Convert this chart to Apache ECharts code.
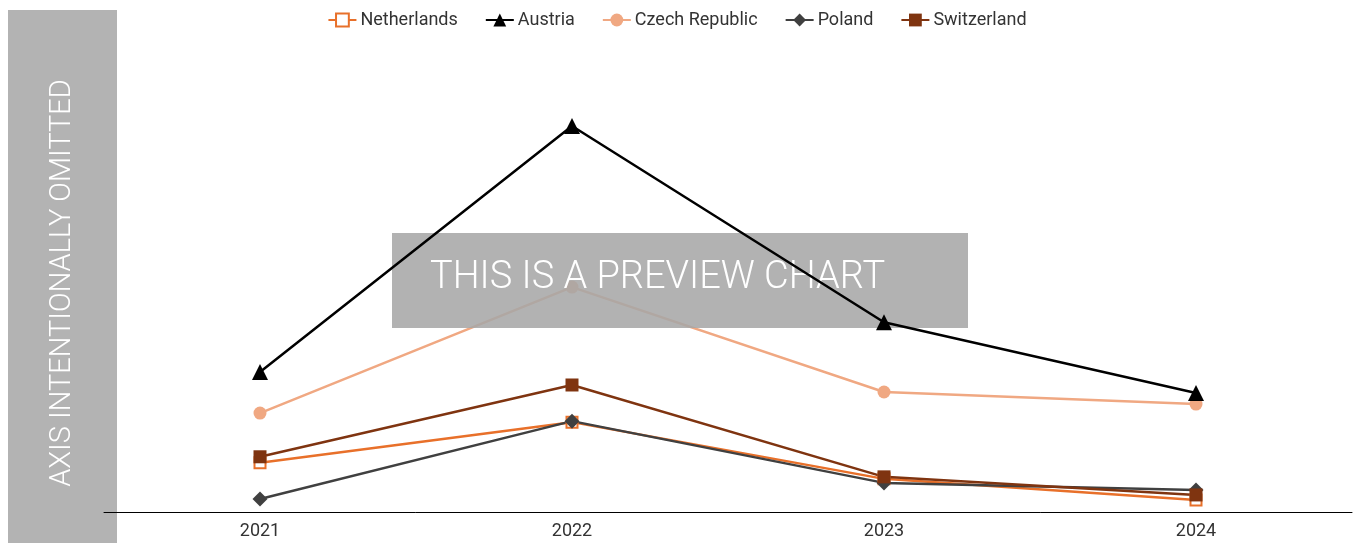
<!DOCTYPE html>
<html>
<head>
<meta charset="utf-8">
<script src="https://cdn.jsdelivr.net/npm/echarts@6/dist/echarts.min.js"></script>
<style>
  html, body { margin: 0; padding: 0; background: #fff; }
  #chart { width: 1354px; height: 543px; }
</style>
</head>
<body>
<div id="chart"></div>
<script>
// Years on the category axis
const years = ['2021', '2022', '2023', '2024'];

// Index values per country (relative scale, axis hidden)
const netherlands = [9.8, 17.9, 6.6, 2.4];
const austria = [27.9, 76.9, 37.8, 23.7];
const czechRepublic = [19.7, 44.8, 23.9, 21.5];
const poland = [2.6, 18.1, 5.8, 4.4];
const switzerland = [11.0, 25.3, 7.0, 3.4];

const FONT = 'Roboto, "Noto Sans", sans-serif';

function lineSeries(name, data, color, symbol, size, opts) {
  return Object.assign({
    name: name,
    type: 'line',
    data: data,
    symbol: symbol,
    symbolSize: size,
    showAllSymbol: true,
    lineStyle: { color: color, width: 2.5 },
    itemStyle: { color: color, borderColor: color, borderWidth: 0, opacity: 1 },
    emphasis: { disabled: true },
    z: 2
  }, opts || {});
}

const chart = echarts.init(document.getElementById('chart'), null, { renderer: 'canvas' });

chart.setOption({
  animation: false,
  backgroundColor: '#ffffff',
  textStyle: { fontFamily: FONT },
  legend: {
    top: 6,
    left: 'center',
    itemWidth: 28,
    itemHeight: 16,
    itemGap: 27,
    textStyle: { fontSize: 18, color: '#333333', fontFamily: FONT, padding: [0, 0, 0, -1] },
    data: ['Netherlands', 'Austria', 'Czech Republic', 'Poland', 'Switzerland']
  },
  grid: { left: 104, right: 2, top: 10, bottom: 31, containLabel: false },
  xAxis: {
    type: 'category',
    data: years,
    boundaryGap: true,
    axisLine: { lineStyle: { color: '#000000', width: 1 } },
    axisTick: { show: false },
    axisLabel: { fontSize: 18, color: '#333333', margin: 10, fontFamily: FONT },
    splitLine: { show: false }
  },
  yAxis: {
    type: 'value',
    min: 0,
    max: 100,
    show: false
  },
  graphic: [
    {
      type: 'rect',
      left: 8, top: 10,
      shape: { width: 109, height: 533 },
      style: { fill: '#b3b3b3' },
      z: -10
    },
    {
      type: 'text',
      x: 63, y: 283,
      rotation: Math.PI / 2,
      style: {
        text: 'AXIS INTENTIONALLY OMITTED',
        fill: '#ffffff',
        font: '300 29px ' + FONT,
        align: 'center',
        verticalAlign: 'middle'
      },
      z: -9
    },
    {
      type: 'rect',
      left: 392, top: 233,
      shape: { width: 576, height: 95 },
      style: { fill: 'rgba(166,166,166,0.87)' },
      z: 5
    },
    {
      type: 'text',
      x: 430, y: 278,
      style: {
        text: 'THIS IS A PREVIEW CHART',
        fill: '#ffffff',
        font: '300 38px ' + FONT,
        align: 'left',
        verticalAlign: 'middle'
      },
      z: 6
    }
  ],
  series: [
    lineSeries('Netherlands', netherlands, '#e8702a', 'rect', 11, {
      itemStyle: { color: '#ffffff', borderColor: '#e8702a', borderWidth: 2, opacity: 1 }
    }),
    lineSeries('Austria', austria, '#000000', 'triangle', 16, { z: 10 }),
    lineSeries('Czech Republic', czechRepublic, '#f0a882', 'circle', 13),
    lineSeries('Poland', poland, '#404040', 'diamond', 15),
    lineSeries('Switzerland', switzerland, '#7f3410', 'rect', 13)
  ]
});
</script>
</body>
</html>
